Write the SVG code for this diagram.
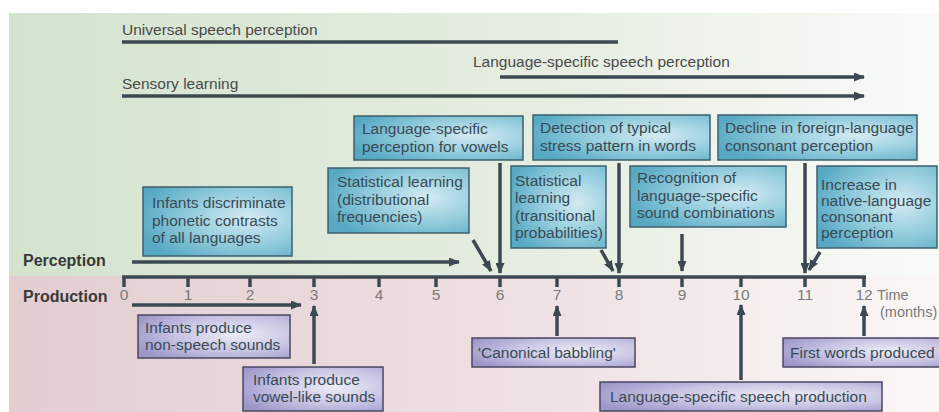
<svg xmlns="http://www.w3.org/2000/svg" width="939" height="412" viewBox="0 0 939 412">
<defs>
<linearGradient id="bgTop" x1="0" y1="0" x2="1" y2="0">
<stop offset="0" stop-color="#d3e3cd"/>
<stop offset="0.6" stop-color="#e6eee2"/>
<stop offset="1" stop-color="#f9fbf8"/>
</linearGradient>
<linearGradient id="bgBot" x1="0" y1="0" x2="1" y2="0">
<stop offset="0" stop-color="#e2cdd0"/>
<stop offset="0.6" stop-color="#efe2e4"/>
<stop offset="1" stop-color="#fbf7f7"/>
</linearGradient>
<radialGradient id="blue" cx="0.7" cy="0.45" r="0.75">
<stop offset="0" stop-color="#d4ebf2"/>
<stop offset="0.55" stop-color="#8fcadb"/>
<stop offset="1" stop-color="#56a8c3"/>
</radialGradient>
<radialGradient id="purple" cx="0.65" cy="0.45" r="0.75">
<stop offset="0" stop-color="#eeecf6"/>
<stop offset="0.55" stop-color="#c6c2e2"/>
<stop offset="1" stop-color="#9b95c8"/>
</radialGradient>
<marker id="ah" markerUnits="userSpaceOnUse" markerWidth="11" markerHeight="9" refX="10" refY="4.5" orient="auto">
<path d="M0,0 L11,4.5 L0,9 z" fill="#3d4952"/>
</marker>
</defs>
<style>
.t{font-family:"Liberation Sans",Arial,sans-serif;font-size:15.5px;fill:#3a4a55}
.top{font-family:"Liberation Sans",Arial,sans-serif;font-size:15.5px;fill:#4a4a4a}
.lab{font-family:"Liberation Sans",Arial,sans-serif;font-size:16px;font-weight:bold;fill:#3a3a3a}
.num{font-family:"Liberation Sans",Arial,sans-serif;font-size:15.5px;fill:#7a7a7a;text-anchor:middle}
.ax{font-family:"Liberation Sans",Arial,sans-serif;font-size:14.5px;fill:#7a7a7a}
.bb{fill:url(#blue);stroke:#3f5f6e;stroke-width:1.5}
.pb{fill:url(#purple);stroke:#4a4763;stroke-width:1.5}
.ln{stroke:#3d4952;stroke-width:3.5;fill:none}
.ar{stroke:#3d4952;stroke-width:3.5;fill:none;marker-end:url(#ah)}
.tk{stroke:#3d4952;stroke-width:3.5}
</style>
<g id="background">
<rect x="9" y="13" width="930" height="263" fill="url(#bgTop)"/>
<rect x="9" y="276" width="930" height="136" fill="url(#bgBot)"/>
</g>
<g id="ranges">
<text class="top" x="122" y="35">Universal speech perception</text>
<text class="top" x="473" y="67">Language-specific speech perception</text>
<text class="top" x="122" y="89">Sensory learning</text>
<text class="lab" x="23" y="266">Perception</text>
<text class="lab" x="23" y="302">Production</text>
</g>
<g id="axis">
<line class="ln" x1="122" y1="277" x2="866" y2="277"/>
<line class="tk" x1="124" y1="277" x2="124" y2="287"/>
<line class="tk" x1="188" y1="277" x2="188" y2="287"/>
<line class="tk" x1="250" y1="277" x2="250" y2="287"/>
<line class="tk" x1="314" y1="277" x2="314" y2="287"/>
<line class="tk" x1="379" y1="277" x2="379" y2="287"/>
<line class="tk" x1="436" y1="277" x2="436" y2="287"/>
<line class="tk" x1="500" y1="277" x2="500" y2="287"/>
<line class="tk" x1="557" y1="277" x2="557" y2="287"/>
<line class="tk" x1="619" y1="277" x2="619" y2="287"/>
<line class="tk" x1="682" y1="277" x2="682" y2="287"/>
<line class="tk" x1="741" y1="277" x2="741" y2="287"/>
<line class="tk" x1="805" y1="277" x2="805" y2="287"/>
<line class="tk" x1="864" y1="277" x2="864" y2="287"/>
<text class="num" x="124" y="300">0</text>
<text class="num" x="188" y="300">1</text>
<text class="num" x="250" y="300">2</text>
<text class="num" x="314" y="300">3</text>
<text class="num" x="379" y="300">4</text>
<text class="num" x="436" y="300">5</text>
<text class="num" x="500" y="300">6</text>
<text class="num" x="557" y="300">7</text>
<text class="num" x="619" y="300">8</text>
<text class="num" x="682" y="300">9</text>
<text class="num" x="741" y="300">10</text>
<text class="num" x="805" y="300">11</text>
<text class="num" x="864" y="300">12</text>
<text class="ax" x="877" y="300">Time</text>
<text class="ax" x="880" y="317">(months)</text>
</g>
<g id="connectors">
<line class="ln" x1="122" y1="42" x2="618" y2="42"/>
<line class="ar" x1="500" y1="77" x2="864" y2="77"/>
<line class="ar" x1="122" y1="96" x2="864" y2="96"/>
<line class="ar" x1="132" y1="262" x2="459" y2="262"/>
<line class="ar" x1="132" y1="305" x2="301" y2="305"/>
<line class="ar" x1="500" y1="163" x2="500" y2="273"/>
<line class="ar" x1="473" y1="240" x2="491" y2="271"/>
<line class="ar" x1="619" y1="163" x2="619" y2="273"/>
<line class="ar" x1="601" y1="250" x2="613" y2="271"/>
<line class="ar" x1="682" y1="234" x2="682" y2="271"/>
<line class="ar" x1="805" y1="163" x2="805" y2="273"/>
<line class="ar" x1="820" y1="252" x2="809" y2="270"/>
<line class="ar" x1="314" y1="364" x2="314" y2="306"/>
<line class="ar" x1="557" y1="336" x2="557" y2="306"/>
<line class="ar" x1="741" y1="380" x2="741" y2="305"/>
<line class="ar" x1="864" y1="336" x2="864" y2="306"/>
</g>
<g id="n-vowels">
<rect class="bb" x="354" y="116" width="169" height="44"/>
<text class="t" x="362" y="134">Language-specific</text>
<text class="t" x="362" y="152">perception for vowels</text>
</g>
<g id="n-distributional">
<rect class="bb" x="328" y="168" width="141" height="65"/>
<text class="t" x="337" y="187">Statistical learning</text>
<text class="t" x="337" y="205">(distributional</text>
<text class="t" x="337" y="222">frequencies)</text>
</g>
<g id="n-discriminate">
<rect class="bb" x="143" y="187" width="149" height="69"/>
<text class="t" x="152" y="208">Infants discriminate</text>
<text class="t" x="152" y="226">phonetic contrasts</text>
<text class="t" x="152" y="243">of all languages</text>
</g>
<g id="n-transitional">
<rect class="bb" x="511" y="166" width="95" height="82"/>
<text class="t" x="515" y="186">Statistical</text>
<text class="t" x="515" y="203">learning</text>
<text class="t" x="515" y="221">(transitional</text>
<text class="t" x="515" y="238">probabilities)</text>
</g>
<g id="n-stress">
<rect class="bb" x="533" y="115" width="177" height="45"/>
<text class="t" x="540" y="133">Detection of typical</text>
<text class="t" x="540" y="151">stress pattern in words</text>
</g>
<g id="n-recognition">
<rect class="bb" x="630" y="166" width="156" height="61"/>
<text class="t" x="637" y="183">Recognition of</text>
<text class="t" x="637" y="201">language-specific</text>
<text class="t" x="637" y="218">sound combinations</text>
</g>
<g id="n-decline">
<rect class="bb" x="718" y="115" width="199" height="45"/>
<text class="t" x="725" y="133">Decline in foreign-language</text>
<text class="t" x="725" y="151">consonant perception</text>
</g>
<g id="n-increase">
<rect class="bb" x="817" y="166" width="120" height="82"/>
<text class="t" x="821" y="190">Increase in</text>
<text class="t" x="821" y="206">native-language</text>
<text class="t" x="821" y="222">consonant</text>
<text class="t" x="821" y="238">perception</text>
</g>
<g id="n-nonspeech">
<rect class="pb" x="138" y="315" width="152" height="43"/>
<text class="t" x="145" y="333">Infants produce</text>
<text class="t" x="145" y="350">non-speech sounds</text>
</g>
<g id="n-vowellike">
<rect class="pb" x="243" y="367" width="140" height="44"/>
<text class="t" x="253" y="385">Infants produce</text>
<text class="t" x="253" y="402">vowel-like sounds</text>
</g>
<g id="n-canonical">
<rect class="pb" x="472" y="338" width="163" height="29"/>
<text class="t" x="478" y="358">'Canonical babbling'</text>
</g>
<g id="n-production">
<rect class="pb" x="600" y="382" width="282" height="29"/>
<text class="t" x="610" y="402">Language-specific speech production</text>
</g>
<g id="n-firstwords">
<rect class="pb" x="783" y="338" width="160" height="29"/>
<text class="t" x="790" y="358">First words produced</text>
</g>
</svg>
